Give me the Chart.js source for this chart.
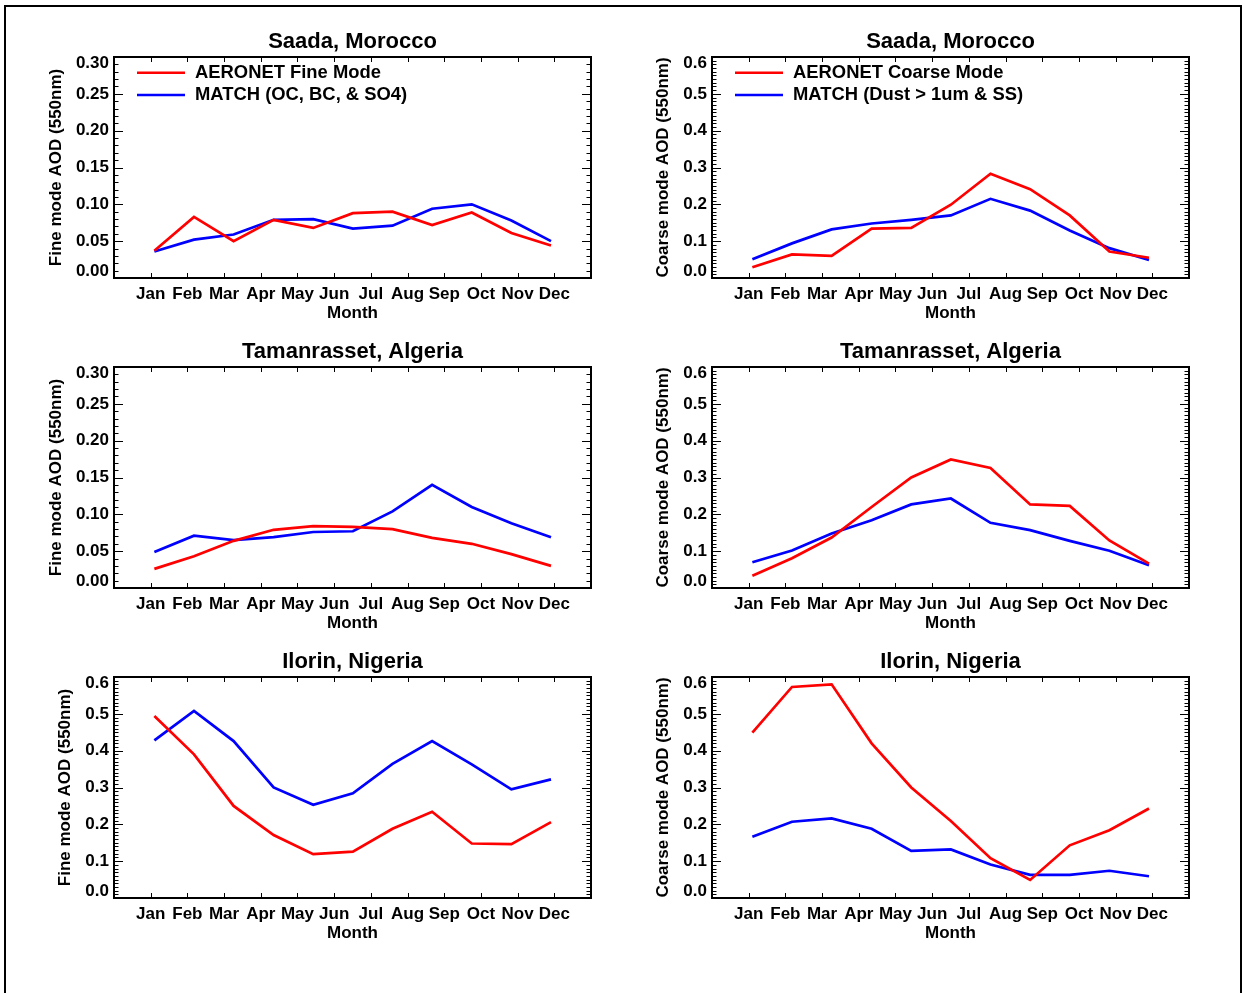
<!DOCTYPE html>
<html>
<head>
<meta charset="utf-8">
<title>AERONET vs MATCH monthly AOD</title>
<script src="https://cdn.jsdelivr.net/npm/chart.js@4/dist/chart.umd.min.js"></script>
<style>
  html, body { margin: 0; padding: 0; background: #fff; width: 1244px; height: 993px; overflow: hidden; }
  #frame { position: absolute; left: 4px; top: 5px; width: 1238px; height: 1100px; box-sizing: border-box;
           border: 2px solid #000; border-bottom: none; }
  canvas { position: absolute; }
</style>
</head>
<body>
<div id="frame"></div>
<script>
// ---- data -------------------------------------------------------------
const months = ['Jan', 'Feb', 'Mar', 'Apr', 'May', 'Jun', 'Jul', 'Aug', 'Sep', 'Oct', 'Nov', 'Dec'];
// position of each monthly sample on the month axis (Jan = 0)
const sampleMonth = [0.10, 1.18, 2.26, 3.35, 4.43, 5.51, 6.59, 7.67, 8.75, 9.83, 10.91];

const fineTickLabels   = ['0.00', '0.05', '0.10', '0.15', '0.20', '0.25', '0.30'];
const coarseTickLabels = ['0.0', '0.1', '0.2', '0.3', '0.4', '0.5', '0.6'];

const saadaFineAeronet   = [0.037, 0.083, 0.050, 0.079, 0.068, 0.088, 0.090, 0.072, 0.089, 0.061, 0.044];
const saadaFineMatch     = [0.036, 0.052, 0.059, 0.079, 0.080, 0.067, 0.071, 0.094, 0.100, 0.078, 0.050];
const saadaCoarseAeronet = [0.029, 0.064, 0.060, 0.134, 0.136, 0.199, 0.283, 0.241, 0.170, 0.072, 0.055];
const saadaCoarseMatch   = [0.051, 0.094, 0.132, 0.148, 0.158, 0.170, 0.215, 0.183, 0.129, 0.081, 0.049];

const tamFineAeronet     = [0.026, 0.043, 0.064, 0.079, 0.084, 0.083, 0.080, 0.068, 0.060, 0.046, 0.030];
const tamFineMatch       = [0.049, 0.071, 0.065, 0.069, 0.076, 0.077, 0.104, 0.140, 0.110, 0.088, 0.069];
const tamCoarseAeronet   = [0.033, 0.081, 0.137, 0.220, 0.300, 0.349, 0.326, 0.227, 0.223, 0.129, 0.066];
const tamCoarseMatch     = [0.070, 0.102, 0.148, 0.184, 0.227, 0.243, 0.177, 0.157, 0.128, 0.101, 0.062];

const ilorinFineAeronet   = [0.494, 0.390, 0.250, 0.171, 0.119, 0.126, 0.188, 0.234, 0.148, 0.146, 0.206];
const ilorinFineMatch     = [0.428, 0.508, 0.426, 0.300, 0.253, 0.284, 0.364, 0.426, 0.363, 0.295, 0.322];
const ilorinCoarseAeronet = [0.449, 0.573, 0.580, 0.420, 0.300, 0.209, 0.108, 0.049, 0.143, 0.184, 0.243];
const ilorinCoarseMatch   = [0.166, 0.207, 0.216, 0.188, 0.128, 0.132, 0.091, 0.063, 0.063, 0.074, 0.059];

const fineLegend   = ['AERONET Fine Mode', 'MATCH (OC, BC, & SO4)'];
const coarseLegend = ['AERONET Coarse Mode', 'MATCH (Dust > 1um & SS)'];
const fineTitle   = 'Fine mode AOD (550nm)';
const coarseTitle = 'Coarse mode AOD (550nm)';

const panels = [
  { title: 'Saada, Morocco',      yTitle: fineTitle,   yTicks: fineTickLabels,   aeronet: saadaFineAeronet,    match: saadaFineMatch,    legend: fineLegend },
  { title: 'Saada, Morocco',      yTitle: coarseTitle, yTicks: coarseTickLabels, aeronet: saadaCoarseAeronet,  match: saadaCoarseMatch,  legend: coarseLegend },
  { title: 'Tamanrasset, Algeria', yTitle: fineTitle,  yTicks: fineTickLabels,   aeronet: tamFineAeronet,      match: tamFineMatch,      legend: null },
  { title: 'Tamanrasset, Algeria', yTitle: coarseTitle, yTicks: coarseTickLabels, aeronet: tamCoarseAeronet,   match: tamCoarseMatch,    legend: null },
  { title: 'Ilorin, Nigeria',     yTitle: fineTitle,   yTicks: coarseTickLabels, aeronet: ilorinFineAeronet,   match: ilorinFineMatch,   legend: null },
  { title: 'Ilorin, Nigeria',     yTitle: coarseTitle, yTicks: coarseTickLabels, aeronet: ilorinCoarseAeronet, match: ilorinCoarseMatch, legend: null }
];

// ---- styling / layout ---------------------------------------------------
const FONT = "'Liberation Sans', Arial, Helvetica, sans-serif";
Chart.defaults.color = '#000';
Chart.defaults.font.family = FONT;

const CANVAS_W = 622, CANVAS_H = 340, ROW_STEP = 310;
const BOX_LEFT = [114, 90];     // plot-box left edge inside each column's canvas
const RIGHT_PAD = [31, 55];

const measure = document.createElement('canvas').getContext('2d');
measure.font = 'bold 17px ' + FONT;

// box, inward tick marks, y tick labels and in-plot legend
const panelDecor = {
  id: 'panelDecor',
  afterDatasetsDraw(chart, args, opts) {
    const { ctx, chartArea: a, scales: { x, y } } = chart;
    ctx.save();
    ctx.strokeStyle = '#000';
    ctx.lineWidth = 1;
    ctx.beginPath();
    const minorStep = 0.01;
    const steps = Math.round(y.max / minorStep);
    for (let i = 1; i < steps; i++) {
      const py = Math.round(y.getPixelForValue(i * minorStep)) + 0.5;
      const len = (i % opts.majorEvery === 0) ? 9 : 4.5;
      ctx.moveTo(a.left, py);  ctx.lineTo(a.left + len, py);
      ctx.moveTo(a.right, py); ctx.lineTo(a.right - len, py);
    }
    for (let m = 0; m < months.length; m++) {
      const px = Math.round(x.getPixelForValue(m)) + 0.5;
      ctx.moveTo(px, a.bottom); ctx.lineTo(px, a.bottom - 5);
      ctx.moveTo(px, a.top);    ctx.lineTo(px, a.top + 5);
    }
    ctx.stroke();

    ctx.lineWidth = 2;
    ctx.strokeRect(a.left, a.top, a.right - a.left, a.bottom - a.top);

    ctx.fillStyle = '#000';
    ctx.font = 'bold 17px ' + FONT;
    ctx.textAlign = 'right';
    ctx.textBaseline = 'middle';
    opts.tickLabels.forEach(t => {
      const raw = y.getPixelForValue(Number(t));
      const py = Math.min(Math.max(raw, a.top + 6), a.bottom - 7);
      ctx.fillText(t, a.left - 5, py);
    });

    if (opts.showLegend) {
      ctx.font = 'bold 18.4px ' + FONT;
      ctx.textAlign = 'left';
      chart.data.datasets.forEach((ds, k) => {
        const ly = a.top + 15.7 + k * 22.3;
        ctx.strokeStyle = ds.borderColor;
        ctx.lineWidth = 2.6;
        ctx.beginPath();
        ctx.moveTo(a.left + 23, ly);
        ctx.lineTo(a.left + 71, ly);
        ctx.stroke();
        ctx.fillText(ds.label, a.left + 81, ly);
      });
    }
    ctx.restore();
  }
};

function toPoints(values) {
  return values.map((v, i) => ({ x: sampleMonth[i], y: v }));
}

panels.forEach((p, idx) => {
  const col = idx % 2, row = Math.floor(idx / 2);
  const canvas = document.createElement('canvas');
  canvas.width = CANVAS_W;
  canvas.height = CANVAS_H;
  canvas.style.left = (col * CANVAS_W) + 'px';
  canvas.style.top = (row * ROW_STEP) + 'px';
  document.body.appendChild(canvas);

  const yMax = Number(p.yTicks[p.yTicks.length - 1]);
  const majorStep = Number(p.yTicks[1]) - Number(p.yTicks[0]);
  const labelW = Math.max(...p.yTicks.map(t => measure.measureText(t).width));
  const boxLeft = BOX_LEFT[col];
  const yTitleCenter = boxLeft - 5 - labelW - 20;
  const legendLabels = p.legend || ['AERONET', 'MATCH'];

  new Chart(canvas, {
    type: 'line',
    data: {
      datasets: [
        { label: legendLabels[0], data: toPoints(p.aeronet), borderColor: '#ff0000', borderWidth: 2.7,
          pointRadius: 0, tension: 0, fill: false },
        { label: legendLabels[1], data: toPoints(p.match), borderColor: '#0000ff', borderWidth: 2.7,
          pointRadius: 0, tension: 0, fill: false }
      ]
    },
    options: {
      responsive: false,
      animation: false,
      events: [],
      layout: { padding: { left: 0, right: RIGHT_PAD[col], top: 0, bottom: 0 } },
      plugins: {
        legend: { display: false },
        tooltip: { enabled: false },
        title: {
          display: true, text: p.title, fullSize: false,
          font: { size: 22, weight: 'bold' }, color: '#000',
          padding: { top: 28.6, bottom: 2.0 }
        },
        panelDecor: {
          tickLabels: p.yTicks,
          majorEvery: Math.round(majorStep / 0.01),
          showLegend: !!p.legend
        }
      },
      scales: {
        x: {
          type: 'linear', min: -1, max: 12,
          grid: { display: false, drawTicks: false },
          border: { display: false },
          ticks: {
            stepSize: 1, autoSkip: false, maxRotation: 0, minRotation: 0, maxTicksLimit: 20,
            padding: 6.3, font: { size: 17, weight: 'bold' }, color: '#000',
            callback: v => {
              const r = Math.round(v);
              return (Math.abs(v - r) < 1e-6 && months[r]) ? months[r] : '';
            }
          },
          title: { display: true, text: 'Month', font: { size: 17, weight: 'bold' }, color: '#000',
                   padding: { top: 0, bottom: 16.3 } },
          afterFit(s) { s.height = 62; }
        },
        y: {
          type: 'linear', min: 0, max: yMax,
          grid: { display: false, drawTicks: false },
          border: { display: false },
          ticks: { display: false },
          title: { display: true, text: p.yTitle, font: { size: 17, weight: 'bold' }, color: '#000',
                   padding: { top: yTitleCenter - 10.2, bottom: 0 } },
          afterFit(s) { s.width = boxLeft; }
        }
      }
    },
    plugins: [panelDecor]
  });
});
</script>
</body>
</html>
